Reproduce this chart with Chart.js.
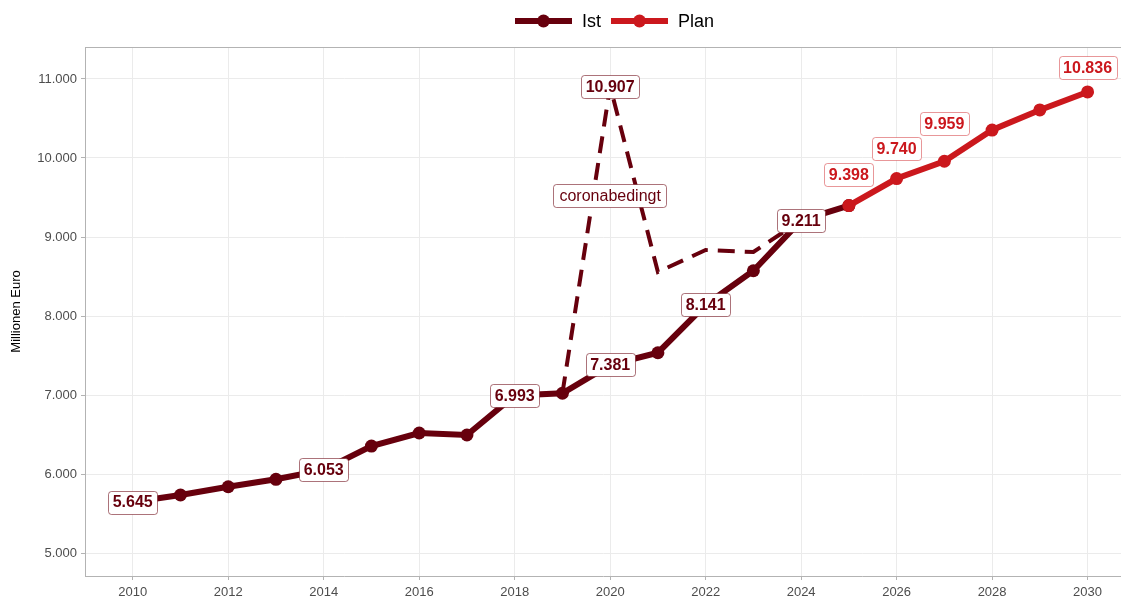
<!DOCTYPE html>
<html>
<head>
<meta charset="utf-8">
<script src="https://cdn.jsdelivr.net/npm/chart.js@4"></script>
<style>
  html, body { margin: 0; padding: 0; background: #fff; overflow: hidden; }
  canvas { display: block; }
</style>
</head>
<body>
<canvas id="chart" width="1121" height="599"></canvas>
<script>
// data
const istYears = [2010, 2011, 2012, 2013, 2014, 2015, 2016, 2017, 2018, 2019, 2020, 2021, 2022, 2023, 2024, 2025];
const istValues = [5645, 5734, 5839, 5933, 6053, 6354, 6519, 6494, 6993, 7022, 7381, 7535, 8141, 8573, 9211, 9398];
const planYears = [2025, 2026, 2027, 2028, 2029, 2030];
const planValues = [9398, 9740, 9959, 10354, 10608, 10836];
const preCoronaYears = [2019, 2020, 2021, 2022, 2023, 2024];
const preCoronaValues = [7022, 10907, 8557, 8835, 8810, 9211];

const xTicks = [2010, 2012, 2014, 2016, 2018, 2020, 2022, 2024, 2026, 2028, 2030];
const yTicks = [5000, 6000, 7000, 8000, 9000, 10000, 11000];

const istLabelYears = [2010, 2014, 2018, 2020, 2022, 2024];
const planLabelYears = [2025, 2026, 2027, 2030];
const peakLabelYears = [2020];
const noteText = 'coronabedingt';
const noteYear = 2020;
const noteValue = 9525;

const DARK = '#67000d';
const RED = '#cb181d';
const FONT = '"Liberation Sans", Arial, Helvetica, sans-serif';

// pixel nudges for the plan labels (same order as planLabelYears)
const planLabelNudge = [-31, -30, -38, -24];

function fmt(v) {
    return String(v).replace(/\B(?=(\d{3})+(?!\d))/g, '.');
}

function toPoints(xs, ys) {
    return xs.map((x, i) => ({ x: x, y: ys[i] }));
}

function valueAt(xs, ys, year) {
    return ys[xs.indexOf(year)];
}

function drawLabel(ctx, text, x, y, color, border, bold) {
    ctx.save();
    ctx.font = (bold ? 'bold ' : '') + '16px ' + FONT;
    const w = ctx.measureText(text).width + (bold ? 9 : 12);
    const h = 23;
    ctx.beginPath();
    ctx.roundRect(Math.round(x - w / 2) + 0.5, Math.round(y - h / 2) + 0.5, Math.round(w), h, 3);
    ctx.fillStyle = '#ffffff';
    ctx.fill();
    ctx.lineWidth = 1;
    ctx.strokeStyle = border;
    ctx.stroke();
    ctx.fillStyle = color;
    ctx.textAlign = 'center';
    ctx.textBaseline = 'middle';
    ctx.fillText(text, x, y + 1);
    ctx.restore();
}

const labelPlugin = {
    id: 'valueLabels',
    afterDatasetsDraw(chart) {
        const ctx = chart.ctx;
        const xs = chart.scales.x;
        const ys = chart.scales.y;
        const darkBorder = 'rgba(103,0,13,0.55)';
        const redBorder = 'rgba(203,24,29,0.45)';

        drawLabel(ctx, noteText, xs.getPixelForValue(noteYear), ys.getPixelForValue(noteValue), DARK, darkBorder, false);

        peakLabelYears.forEach(yr => {
            const v = valueAt(preCoronaYears, preCoronaValues, yr);
            drawLabel(ctx, fmt(v), xs.getPixelForValue(yr), ys.getPixelForValue(v), DARK, darkBorder, true);
        });
        istLabelYears.forEach(yr => {
            const v = valueAt(istYears, istValues, yr);
            drawLabel(ctx, fmt(v), xs.getPixelForValue(yr), ys.getPixelForValue(v), DARK, darkBorder, true);
        });
        planLabelYears.forEach((yr, i) => {
            const v = valueAt(planYears, planValues, yr);
            drawLabel(ctx, fmt(v), xs.getPixelForValue(yr), ys.getPixelForValue(v) + planLabelNudge[i], RED, redBorder, true);
        });
    }
};

const framePlugin = {
    id: 'frameAndLegend',
    beforeDatasetsDraw(chart) {
        const { ctx, chartArea } = chart;
        ctx.save();
        ctx.strokeStyle = '#b3b3b3';
        ctx.lineWidth = 1;
        ctx.beginPath();
        ctx.moveTo(chartArea.left, chartArea.top + 0.5);
        ctx.lineTo(chartArea.right, chartArea.top + 0.5);
        ctx.stroke();
        ctx.restore();
    },
    afterDraw(chart) {
        const ctx = chart.ctx;
        const items = [
            { text: 'Ist', color: DARK, x: 515 },
            { text: 'Plan', color: RED, x: 611 }
        ];
        const cy = 21;
        ctx.save();
        items.forEach(it => {
            ctx.strokeStyle = it.color;
            ctx.fillStyle = it.color;
            ctx.lineWidth = 6;
            ctx.beginPath();
            ctx.moveTo(it.x, cy);
            ctx.lineTo(it.x + 57, cy);
            ctx.stroke();
            ctx.beginPath();
            ctx.arc(it.x + 28.5, cy, 6.5, 0, Math.PI * 2);
            ctx.fill();
            ctx.fillStyle = '#000000';
            ctx.font = '18px ' + FONT;
            ctx.textAlign = 'left';
            ctx.textBaseline = 'middle';
            ctx.fillText(it.text, it.x + 67, cy + 1);
        });
        ctx.restore();
    }
};

Chart.defaults.font.family = FONT;

const config = {
    type: 'line',
    data: {
        datasets: [{
            label: 'Plan',
            data: toPoints(planYears, planValues),
            borderColor: RED,
            backgroundColor: RED,
            borderWidth: 6,
            pointRadius: 6.5,
            pointBorderWidth: 0,
            order: 0
        }, {
            label: 'Ist',
            data: toPoints(istYears, istValues),
            borderColor: DARK,
            backgroundColor: DARK,
            borderWidth: 6,
            pointRadius: 6.5,
            pointBorderWidth: 0,
            order: 1
        }, {
            label: 'coronabedingt',
            data: toPoints(preCoronaYears, preCoronaValues),
            borderColor: DARK,
            borderWidth: 4,
            borderDash: [17, 10],
            pointRadius: 0,
            order: 2
        }]
    },
    options: {
        responsive: false,
        animation: false,
        layout: { autoPadding: false, padding: { top: 47, left: 0, right: 0, bottom: 0 } },
        plugins: {
            legend: { display: false },
            tooltip: { enabled: false }
        },
        scales: {
            x: {
                type: 'linear',
                min: 2009,
                max: 2030.7,
                afterBuildTicks: axis => { axis.ticks = xTicks.map(v => ({ value: v })); },
                afterFit: axis => {
                    axis.height = 23;
                    axis.paddingLeft = 0;
                    axis.paddingRight = 0;
                },
                ticks: {
                    color: '#4d4d4d',
                    font: { size: 13 },
                    padding: 5,
                    maxRotation: 0,
                    callback: v => String(v)
                },
                grid: { color: '#ebebeb', tickColor: '#b3b3b3', tickLength: 4 },
                border: { color: '#b3b3b3', width: 1 }
            },
            y: {
                min: 4709,
                max: 11405,
                afterBuildTicks: axis => { axis.ticks = yTicks.map(v => ({ value: v })); },
                afterFit: axis => {
                    axis.width = 85;
                    axis.paddingTop = 0;
                    axis.paddingBottom = 0;
                },
                ticks: {
                    color: '#4d4d4d',
                    font: { size: 13 },
                    padding: 4,
                    callback: v => fmt(v)
                },
                grid: { color: '#ebebeb', tickColor: '#b3b3b3', tickLength: 4 },
                border: { color: '#b3b3b3', width: 1 },
                title: {
                    display: true,
                    text: 'Millionen Euro',
                    color: '#000000',
                    font: { size: 13 },
                    padding: { top: 9, bottom: 0 }
                }
            }
        }
    },
    plugins: [framePlugin, labelPlugin]
};

new Chart(document.getElementById('chart'), config);
</script>
</body>
</html>
